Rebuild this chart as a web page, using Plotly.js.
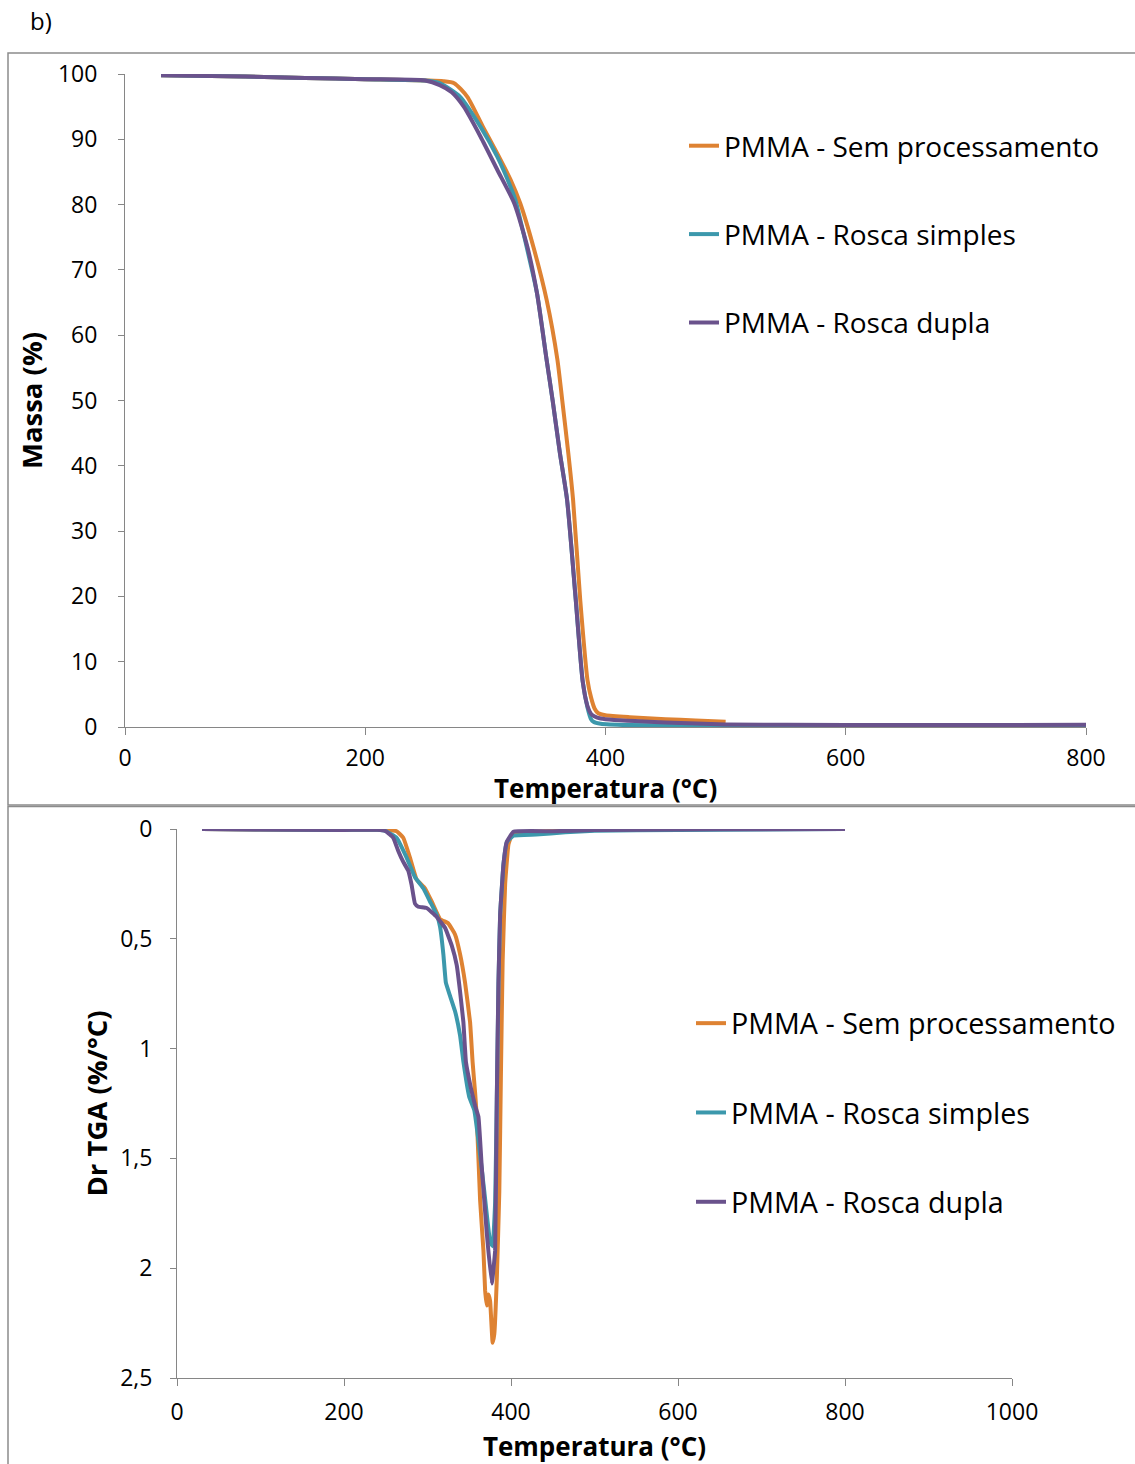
<!DOCTYPE html>
<html>
<head>
<meta charset="utf-8">
<script src="https://cdn.plot.ly/plotly-3.0.1.min.js"></script>
<style>
  html, body { margin: 0; padding: 0; background: #ffffff; }
  #chart { width: 1135px; height: 1464px; }
</style>
</head>
<body>
<div id="chart"></div>
<script>
// ---- TGA: mass loss (%) vs temperature (°C) ----
const tgaTempSem = [30, 100, 150, 200, 250, 265, 274, 285, 298, 310, 321, 329, 340, 351, 360, 364, 369, 373, 379, 385, 388, 391, 394, 400, 420, 450, 475, 500];
const tgaMassSem = [99.8, 99.6, 99.4, 99.2, 99.0, 98.9, 98.6, 96.5, 91.9, 87.8, 83.8, 80.2, 73.5, 65.4, 56.2, 50, 42, 34.8, 19.4, 7.2, 4.5, 2.8, 2.1, 1.8, 1.5, 1.2, 1.0, 0.8];

const tgaTempSimples = [30, 100, 150, 200, 250, 262, 279, 296, 310, 321, 325, 334, 343, 351, 356, 362, 368, 375, 381, 385, 388, 390, 396, 420, 500, 600, 700, 800];
const tgaMassSimples = [99.8, 99.6, 99.4, 99.2, 99.0, 98.6, 96.5, 91.9, 87.3, 82.7, 80.7, 73.8, 66.4, 56.2, 50, 42, 34.8, 20, 7, 3, 1.2, 0.8, 0.5, 0.3, 0.2, 0.2, 0.2, 0.25];

const tgaTempDupla = [30, 100, 150, 200, 250, 262, 272, 282, 296, 310, 324, 335, 343, 351, 356, 362, 368, 375, 381, 385, 388, 391, 396, 400, 450, 500, 600, 700, 800];
const tgaMassDupla = [99.8, 99.6, 99.4, 99.2, 99.0, 98.3, 97.2, 95, 90.4, 85.3, 80.2, 73.5, 66.4, 56.2, 50, 42, 34.8, 20, 7, 3.2, 2.0, 1.6, 1.3, 1.2, 0.7, 0.4, 0.3, 0.3, 0.35];

// ---- DTG: derivative of mass loss (%/°C) vs temperature (°C) ----
const dtgTempSem = [30, 100, 200, 250, 263, 271, 279, 287, 297, 305, 315, 325, 333, 339, 345, 351, 354, 357, 359, 363, 367, 369, 371, 373, 375, 378, 380, 383, 386, 388, 390, 393, 397, 402, 450, 500];
const dtgValSem = [0, 0.002, 0.004, 0.004, 0.01, 0.04, 0.13, 0.23, 0.27, 0.33, 0.41, 0.43, 0.48, 0.57, 0.70, 0.88, 1.06, 1.2, 1.31, 1.69, 1.92, 2.10, 2.17, 2.12, 2.15, 2.34, 2.3, 2.05, 1.65, 1.1, 0.6, 0.25, 0.07, 0.02, 0.01, 0.005];

const dtgTempSimples = [30, 100, 200, 240, 250, 263, 275, 285, 295, 303, 311, 315, 319, 322, 327, 333, 339, 343, 350, 356, 362, 368, 375, 378, 381, 383, 385, 387, 391, 395, 403, 430, 465, 500, 600, 700, 800];
const dtgValSimples = [0, 0.002, 0.004, 0.004, 0.01, 0.04, 0.13, 0.22, 0.27, 0.33, 0.39, 0.445, 0.57, 0.70, 0.76, 0.83, 0.94, 1.06, 1.22, 1.28, 1.45, 1.65, 1.88, 1.9, 1.7, 1.23, 0.70, 0.39, 0.16, 0.06, 0.03, 0.025, 0.015, 0.008, 0.004, 0.002, 0];

const dtgTempDupla = [30, 100, 200, 240, 250, 259, 265, 271, 277, 281, 285, 289, 299, 311, 321, 329, 335, 339, 343, 346, 352, 357, 361, 365, 371, 377, 381, 383, 385, 387, 391, 395, 403, 450, 500, 600, 700, 800];
const dtgValDupla = [0, 0.002, 0.004, 0.004, 0.01, 0.04, 0.10, 0.15, 0.19, 0.255, 0.34, 0.354, 0.36, 0.40, 0.45, 0.53, 0.62, 0.74, 0.88, 1.06, 1.18, 1.26, 1.31, 1.54, 1.84, 2.07, 1.92, 1.23, 0.70, 0.39, 0.16, 0.058, 0.012, 0.01, 0.005, 0.002, 0.001, 0];

const seriesNames = ['PMMA - Sem processamento', 'PMMA - Rosca simples', 'PMMA - Rosca dupla'];
const seriesColors = ['#DE8232', '#3C98AC', '#6A528C'];

const W = 1135, H = 1464;
const px = v => v / W;          // horizontal pixel -> paper
const py = v => 1 - v / H;      // vertical pixel (from top) -> paper

const FONT = 'Open Sans, Noto Sans, sans-serif';
const AXIS_GRAY = '#868686';

function lineTrace(x, y, i, xa, ya, legend, smooth) {
  return {
    type: 'scatter', mode: 'lines',
    x: x, y: y,
    xaxis: xa, yaxis: ya,
    name: seriesNames[i],
    legend: legend,
    legendgroup: legend + '_' + i,
    line: { color: seriesColors[i], width: 4, shape: 'spline', smoothing: smooth },
    hoverinfo: 'skip'
  };
}

const data = [
  lineTrace(tgaTempSem, tgaMassSem, 0, 'x', 'y', 'legend', 0.6),
  lineTrace(tgaTempSimples, tgaMassSimples, 1, 'x', 'y', 'legend', 0.6),
  lineTrace(tgaTempDupla, tgaMassDupla, 2, 'x', 'y', 'legend', 0.6),
  lineTrace(dtgTempSem, dtgValSem, 0, 'x2', 'y2', 'legend2', 0.3),
  lineTrace(dtgTempSimples, dtgValSimples, 1, 'x2', 'y2', 'legend2', 0.3),
  lineTrace(dtgTempDupla, dtgValDupla, 2, 'x2', 'y2', 'legend2', 0.3)
];

const tickFont = { family: FONT, size: 23, color: '#000000' };
const xTitleFont = { family: FONT, size: 26, color: '#000000', weight: 'bold' };
const yTitleFont = { family: FONT, size: 27.5, color: '#000000', weight: 'bold' };

function axisBase(extra) {
  return Object.assign({
    showgrid: false, zeroline: false,
    showline: true, linecolor: AXIS_GRAY, linewidth: 1,
    ticks: 'outside', tickcolor: AXIS_GRAY, tickwidth: 1,
    tickfont: tickFont,
    fixedrange: true
  }, extra);
}

const legendBase = {
  bgcolor: 'rgba(0,0,0,0)',
  borderwidth: 0,
  xanchor: 'left', yanchor: 'top',
  tracegroupgap: 49,
  itemclick: false, itemdoubleclick: false
};

const layout = {
  width: W, height: H,
  margin: { l: 0, r: 0, t: 0, b: 0 },
  paper_bgcolor: '#ffffff', plot_bgcolor: '#ffffff',
  font: { family: FONT, color: '#000000' },
  separators: ',.',
  showlegend: true,

  xaxis: axisBase({
    domain: [px(125), px(1086)], range: [0, 800], dtick: 200, tick0: 0,
    ticklen: 7, ticklabelstandoff: 3, anchor: 'y'
  }),
  yaxis: axisBase({
    domain: [py(727), py(74)], range: [0, 100], dtick: 10, tick0: 0,
    ticklen: 6, ticklabelstandoff: 16, anchor: 'x',
    title: { text: 'Massa (%)', font: yTitleFont, standoff: 7 }
  }),
  xaxis2: axisBase({
    domain: [px(177), px(1012)], range: [0, 1000], dtick: 200, tick0: 0,
    ticklen: 7, ticklabelstandoff: 6, anchor: 'y2',
    title: { text: 'Temperatura (°C)', font: xTitleFont, standoff: 15 }
  }),
  yaxis2: axisBase({
    domain: [py(1378), py(829)], range: [2.5, 0], dtick: 0.5, tick0: 0,
    ticklen: 6, ticklabelstandoff: 13, anchor: 'x2',
    title: { text: 'Dr TGA (%/°C)', font: yTitleFont, standoff: 4 }
  }),

  legend: Object.assign({}, legendBase, {
    x: px(684), y: py(121),
    font: { family: FONT, size: 28, color: '#000000' }
  }),
  legend2: Object.assign({}, legendBase, {
    x: px(691), y: py(998),
    font: { family: FONT, size: 28.7, color: '#000000' }
  }),

  shapes: [
    // frame around the TGA panel
    { type: 'rect', xref: 'paper', yref: 'paper',
      x0: px(8), x1: 1.01, y0: py(805), y1: py(53),
      line: { color: '#8c8c8c', width: 1.5 }, fillcolor: 'rgba(0,0,0,0)' },
    // frame around the DTG panel
    { type: 'rect', xref: 'paper', yref: 'paper',
      x0: px(8), x1: 1.01, y0: -0.01, y1: py(806.5),
      line: { color: '#8c8c8c', width: 1.5 }, fillcolor: 'rgba(0,0,0,0)' }
  ],

  annotations: [
    { text: 'b)', xref: 'paper', yref: 'paper', x: px(28), y: py(20),
      xanchor: 'left', yanchor: 'middle', showarrow: false,
      font: { family: FONT, size: 24, color: '#000000' } },
    // x-axis title of the TGA panel, placed tight under its tick labels
    { text: 'Temperatura (°C)', xref: 'paper', yref: 'paper',
      x: px(605), y: py(788), xanchor: 'center', yanchor: 'middle', showarrow: false,
      font: xTitleFont }
  ]
};

Plotly.newPlot('chart', data, layout, { staticPlot: true, displayModeBar: false });
</script>
</body>
</html>
